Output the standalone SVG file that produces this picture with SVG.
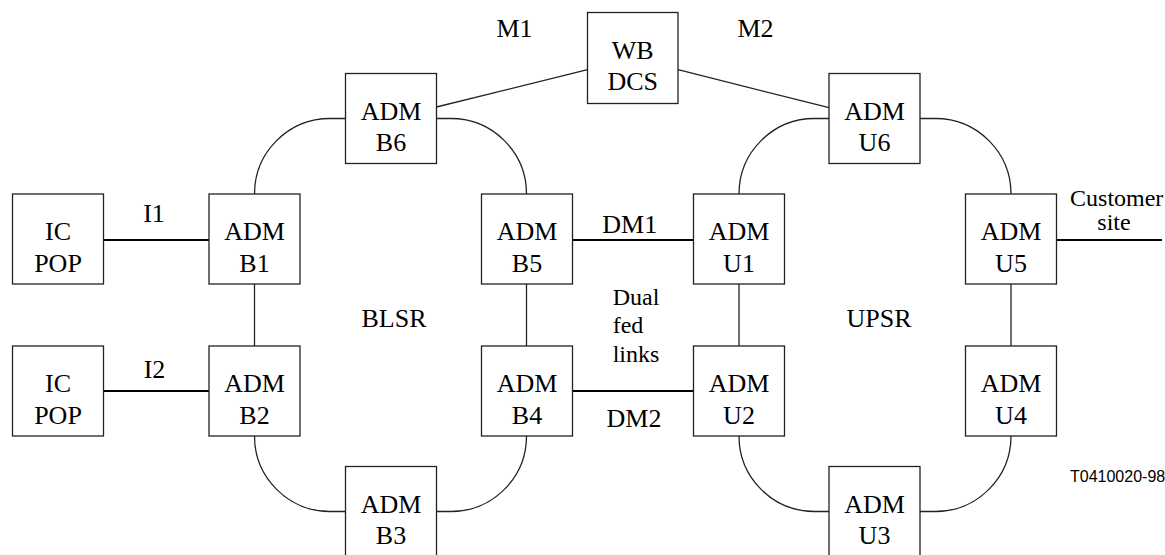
<svg xmlns="http://www.w3.org/2000/svg" width="1165" height="555" viewBox="0 0 1165 555">
  <style>
    text { font-family: "Liberation Serif", "Times New Roman", "DejaVu Serif", serif; fill: #000; }
    .box { fill: #fff; stroke: #222; stroke-width: 1.3; }
    .lbl { font-size: 26px; text-anchor: middle; }
    .note { font-size: 24px; }
    .mid { text-anchor: middle; }
    .ring { fill: none; stroke: #222; stroke-width: 1.3; }
    .link { fill: none; stroke: #000; stroke-width: 2.2; }
    .ref { font-family: "Liberation Sans", Arial, sans-serif; font-size: 16px; }
  </style>

  <rect width="1165" height="555" fill="#fff"/>

  <!-- connectors -->
  <g id="connectors">
    <!-- WB DCS feeders -->
    <path class="ring" d="M436.5,107 L587.5,69.7"/>
    <path class="ring" d="M678,69.7 L829,107.7"/>
    <!-- BLSR ring -->
    <path class="ring" d="M345.5,118.5 H330 A75.5,75.5 0 0 0 254.5,194"/>
    <path class="ring" d="M436.5,118.5 H451 A75.5,75.5 0 0 1 526.5,194"/>
    <path class="ring" d="M254.5,284 V346"/>
    <path class="ring" d="M526.5,284 V346"/>
    <path class="ring" d="M254.5,436 A75.5,75.5 0 0 0 330,511.5 H345.5"/>
    <path class="ring" d="M436.5,511.5 H451 A75.5,75.5 0 0 0 526.5,436"/>
    <!-- UPSR ring -->
    <path class="ring" d="M829,118.5 H814.5 A75.5,75.5 0 0 0 739,194"/>
    <path class="ring" d="M920,118.5 H935.5 A75.5,75.5 0 0 1 1011,194"/>
    <path class="ring" d="M739,284 V346"/>
    <path class="ring" d="M1011,284 V346"/>
    <path class="ring" d="M739,436 A75.5,75.5 0 0 0 814.5,511.5 H829"/>
    <path class="ring" d="M920,511.5 H935.5 A75.5,75.5 0 0 0 1011,436"/>
    <!-- access and interconnect links -->
    <path class="link" d="M103.5,240 H209"/>
    <path class="link" d="M103.5,391 H209"/>
    <path class="link" d="M572.5,240 H693.5"/>
    <path class="link" d="M572.5,391 H693.5"/>
    <path class="link" d="M1056.5,240 H1162"/>
  </g>

  <!-- link and ring labels -->
  <g id="labels">
    <text class="lbl" x="514.5" y="37">M1</text>
    <text class="lbl" x="755.5" y="37">M2</text>
    <text class="lbl" x="154" y="222">I1</text>
    <text class="lbl" x="154.5" y="378">I2</text>
    <text class="lbl" x="629.7" y="233">DM1</text>
    <text class="lbl" x="634" y="426.7">DM2</text>
    <text class="lbl" x="394" y="326.7">BLSR</text>
    <text class="lbl" x="879" y="326.7">UPSR</text>
    <text class="note" x="612.7" y="305">Dual</text>
    <text class="note" x="612.7" y="332.5">fed</text>
    <text class="note" x="612.7" y="361.5">links</text>
    <text class="note mid" x="1116.7" y="206">Customer</text>
    <text class="note mid" x="1114" y="230">site</text>
    <text class="ref" x="1070" y="482">T0410020-98</text>
  </g>

  <!-- nodes -->
  <g id="wb-dcs">
    <rect class="box" x="587.5" y="12.5" width="90.5" height="91"/>
    <text class="lbl" x="632.7" y="58.5">WB</text>
    <text class="lbl" x="632.7" y="90">DCS</text>
  </g>
  <g id="ic-pop-1">
    <rect class="box" x="12.5" y="194" width="91" height="90"/>
    <text class="lbl" x="58" y="240">IC</text>
    <text class="lbl" x="58" y="271.5">POP</text>
  </g>
  <g id="ic-pop-2">
    <rect class="box" x="12.5" y="346" width="91" height="90"/>
    <text class="lbl" x="58" y="392">IC</text>
    <text class="lbl" x="58" y="423.5">POP</text>
  </g>
  <g id="adm-b1">
    <rect class="box" x="209" y="194" width="91" height="90"/>
    <text class="lbl" x="254.5" y="240">ADM</text>
    <text class="lbl" x="254.5" y="271.5">B1</text>
  </g>
  <g id="adm-b2">
    <rect class="box" x="209" y="346" width="91" height="90"/>
    <text class="lbl" x="254.5" y="392">ADM</text>
    <text class="lbl" x="254.5" y="423.5">B2</text>
  </g>
  <g id="adm-b6">
    <rect class="box" x="345.5" y="73.5" width="91" height="90"/>
    <text class="lbl" x="391" y="119.5">ADM</text>
    <text class="lbl" x="391" y="151">B6</text>
  </g>
  <g id="adm-b3">
    <rect class="box" x="345.5" y="466.5" width="91" height="90"/>
    <text class="lbl" x="391" y="512.5">ADM</text>
    <text class="lbl" x="391" y="544">B3</text>
  </g>
  <g id="adm-b5">
    <rect class="box" x="481.5" y="194" width="91" height="90"/>
    <text class="lbl" x="527" y="240">ADM</text>
    <text class="lbl" x="527" y="271.5">B5</text>
  </g>
  <g id="adm-b4">
    <rect class="box" x="481.5" y="346" width="91" height="90"/>
    <text class="lbl" x="527" y="392">ADM</text>
    <text class="lbl" x="527" y="423.5">B4</text>
  </g>
  <g id="adm-u1">
    <rect class="box" x="693.5" y="194" width="91" height="90"/>
    <text class="lbl" x="739" y="240">ADM</text>
    <text class="lbl" x="739" y="271.5">U1</text>
  </g>
  <g id="adm-u2">
    <rect class="box" x="693.5" y="346" width="91" height="90"/>
    <text class="lbl" x="739" y="392">ADM</text>
    <text class="lbl" x="739" y="423.5">U2</text>
  </g>
  <g id="adm-u6">
    <rect class="box" x="829" y="73.5" width="91" height="90"/>
    <text class="lbl" x="874.5" y="119.5">ADM</text>
    <text class="lbl" x="874.5" y="151">U6</text>
  </g>
  <g id="adm-u3">
    <rect class="box" x="829" y="466.5" width="91" height="90"/>
    <text class="lbl" x="874.5" y="512.5">ADM</text>
    <text class="lbl" x="874.5" y="544">U3</text>
  </g>
  <g id="adm-u5">
    <rect class="box" x="965.5" y="194" width="91" height="90"/>
    <text class="lbl" x="1011" y="240">ADM</text>
    <text class="lbl" x="1011" y="271.5">U5</text>
  </g>
  <g id="adm-u4">
    <rect class="box" x="965.5" y="346" width="91" height="90"/>
    <text class="lbl" x="1011" y="392">ADM</text>
    <text class="lbl" x="1011" y="423.5">U4</text>
  </g>
</svg>
